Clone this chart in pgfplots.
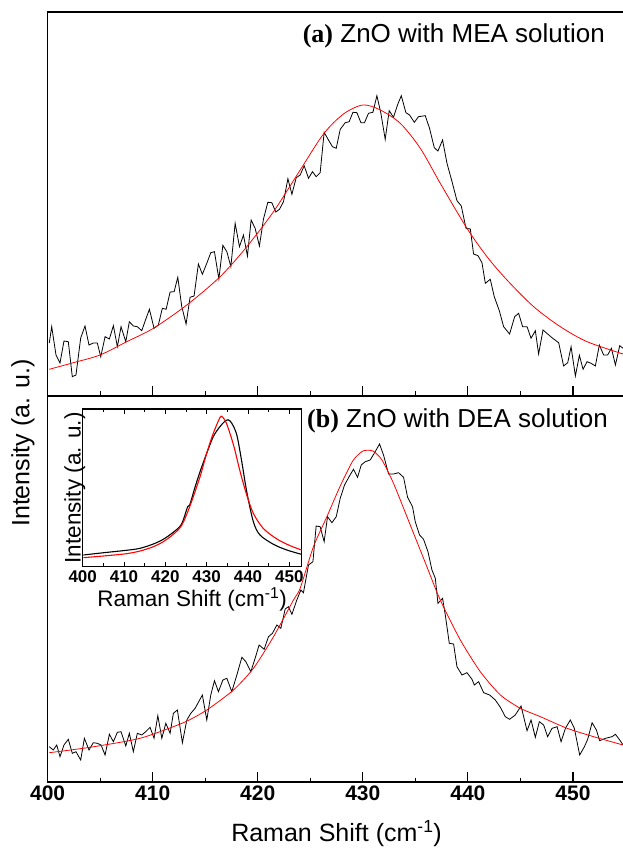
\documentclass[border=0pt]{standalone}
\usepackage{fontspec}
\setmainfont{Liberation Sans}
\newfontfamily\timesfont{Liberation Serif}
\usepackage{pgfplots}
\pgfplotsset{compat=1.18}
\definecolor{fitred}{HTML}{FF0000}

\pgfplotsset{
  raman/.style={
    scale only axis, anchor=south west,
    xmin=400, xmax=455,
    axis line style={line width=1.6pt},
    every tick/.style={black, line width=1.1pt},
    tick align=inside,
    major tick length=10pt, minor tick length=4.5pt,
    xtick={400,410,...,450}, minor xtick={405,415,...,455},
    xtick pos=bottom,
    ytick=\empty,
    /pgf/number format/assume math mode=true,
  },
}

\begin{document}
\begin{tikzpicture}[x=1pt,y=1pt]
\useasboundingbox (0,0) rectangle (623,853);

% ---- (a) MEA panel ----
\begin{axis}[raman,
    at={(47.6pt,457pt)}, width=577.9pt, height=384pt,
    ymin=0, ymax=384,
    minor ytick={0,18.3,...,380}, ytick pos=left,
    xticklabels={},
]
\addplot[black, line width=0.8pt] coordinates {
(400.16,53) (400.39,69.3) (400.80,41) (401.18,33) (401.56,55) (401.97,54.3)
(402.35,19.3) (402.70,21) (403.15,58) (403.56,70) (403.94,51) (404.35,53)
(404.73,53) (405.06,39.3) (405.47,59.3) (405.88,57) (406.26,70.3) (406.64,49.3)
(406.99,69.3) (407.44,54.3) (407.78,74.3) (408.16,70) (408.54,69.3) (408.96,65.3)
(409.34,76.7) (409.69,86.7) (410.13,67.7) (410.54,71) (410.92,87.7) (411.28,86.7)
(411.66,104) (412.04,104.3) (412.39,118.7) (412.77,89.3) (413.18,72) (413.56,98.7)
(413.94,100) (414.35,132) (414.73,121.7) (415.15,132.7) (415.53,143.3) (415.88,144.3)
(416.30,117) (416.68,150.7) (417.06,144.3) (417.44,129.3) (417.85,172.7) (418.26,149.3)
(418.64,161) (419.02,140) (419.37,176) (419.75,167.7) (420.16,150) (420.54,176.7)
(420.96,193.7) (421.34,193.3) (421.72,184) (422.07,186.7) (422.45,194.3) (422.87,217.3)
(423.25,201.7) (423.66,218.3) (424.04,221) (424.42,230.3) (424.83,217.7) (425.21,224.3)
(425.56,219.3) (425.94,223.3) (426.32,263.7) (426.73,256) (427.11,249.3) (427.47,247.7)
(427.85,266.7) (428.32,273.3) (428.70,274.3) (429.06,283.7) (429.44,283.3) (429.82,273.3)
(430.16,273.3) (430.54,282.7) (430.96,283.7) (431.34,300.3) (431.72,282.7) (432.13,256.7)
(432.51,285.3) (432.92,278.7) (433.30,291) (433.66,300.3) (434.10,283.3) (434.45,281)
(434.90,273.7) (435.30,279.3) (435.94,280.3) (436.35,267.7) (436.80,248.3) (437.15,245)
(437.59,256) (438.01,232.7) (438.49,214.3) (438.96,195.3) (439.37,190) (439.82,167.7)
(440.23,167) (440.54,142) (440.96,140.3) (441.34,133.3) (441.66,112.7) (442.13,116.7)
(442.51,99.3) (442.99,85.3) (443.40,69.3) (443.97,62) (444.45,79.3) (444.83,82.7)
(445.21,69.3) (445.63,69.3) (446.01,57.7) (446.42,65.3) (446.73,42) (447.15,66)
(447.59,62) (448.07,57.7) (448.64,53.3) (449.11,30) (449.50,33.3) (449.82,49.3)
(450.23,20) (450.61,40.7) (450.96,26.7) (451.34,34.3) (451.72,32.7) (452.13,30)
(452.51,51) (452.92,41) (453.30,41) (453.66,47.7) (454.04,31) (454.45,50.3)
(454.77,47.7)
};
\addplot[fitred, line width=0.8pt, smooth] coordinates {
(400.16,26.7) (402.45,33.3) (404.99,41) (407.53,54.3) (410.07,67.7) (413.25,91)
(416.42,119.3) (418.96,149.3) (421.50,184.3) (424.04,226) (426.26,262) (428.16,282)
(430.01,291) (431.66,286) (433.56,272.7) (435.47,247.7) (437.37,212.7) (439.91,167.7)
(441.82,139.3) (443.72,116) (446.26,89.3) (448.80,69.3) (451.34,54.3) (454.77,42)
};
\end{axis}

% ---- (b) DEA panel ----
\begin{axis}[raman,
    at={(47.6pt,71pt)}, width=577.9pt, height=386pt,
    ymin=0, ymax=386,
    minor ytick={4.3,22.6,...,380}, ytick pos=left,
    xticklabel style={font=\bfseries\fontsize{21}{21}\selectfont},
    xlabel={Raman Shift (cm\textsuperscript{-1})},
    xlabel style={font=\fontsize{25}{25}\selectfont, yshift=-13pt},
]
\addplot[black, line width=0.8pt] coordinates {
(400.16,35.3) (400.54,32) (400.87,37) (401.18,25.3) (401.56,37) (401.97,42.7)
(402.35,28.7) (402.70,30.3) (403.15,22) (403.50,43.7) (403.94,32) (404.35,39.3)
(404.73,38.7) (405.09,37) (405.47,27) (405.88,47.7) (406.26,40.3) (406.64,49.7)
(406.99,50.3) (407.44,36) (407.78,48.7) (408.16,30.3) (408.54,48.7) (408.96,47)
(409.34,50.3) (409.75,54.7) (410.13,43.7) (410.49,66.3) (410.87,43.7) (411.25,58.7)
(411.66,48.7) (411.97,68.7) (412.35,72) (412.83,39.3) (413.25,62) (413.63,68.7)
(414.04,73.7) (414.73,87) (415.15,62) (415.53,87) (415.88,101.3) (416.26,90.3)
(416.68,102) (417.06,103.7) (417.53,90.3) (418.01,107) (418.49,124.7) (418.87,120.3)
(419.34,110.3) (419.75,123.7) (420.13,137) (420.61,132.7) (421.02,145.3) (421.40,148.7)
(421.82,157) (422.20,153.7) (422.61,173) (422.92,175.3) (423.25,167.7) (423.72,182)
(424.10,192) (424.35,189.3) (424.83,217) (425.25,220.3) (425.56,256) (425.94,255.3)
(426.32,240.3) (426.64,265.3) (427.06,259.3) (427.47,265.3) (427.85,283.7) (428.26,297)
(428.73,306) (429.11,312.7) (429.50,304.7) (429.85,317) (430.23,320.3) (430.70,322)
(431.18,330.3) (431.59,338) (431.97,327) (432.45,308) (432.92,308) (433.40,309.3)
(433.88,304.7) (434.26,284.7) (434.73,275.3) (434.99,260.3) (435.40,247) (435.78,242.7)
(436.20,230.3) (436.58,212) (436.90,203.7) (437.15,178.7) (437.59,183.7) (437.85,167)
(438.23,138.7) (438.64,138) (438.96,115.3) (439.44,107) (439.91,109.3) (440.39,102.7)
(440.61,97) (441.02,100.3) (441.50,89.3) (442.07,87) (442.61,82) (443.09,74.7)
(443.56,65.3) (443.97,62.7) (444.51,67) (445.06,76) (445.63,51.3) (446.01,62)
(446.42,44.7) (446.80,60.3) (447.21,57) (447.59,45.3) (448.01,53.7) (448.49,55.3)
(448.87,40.3) (449.28,53.7) (449.75,62) (450.13,53.7) (450.64,27) (451.09,35.3)
(451.40,42.7) (451.82,59.3) (452.23,52) (452.54,41.3) (453.09,43.7) (453.72,45.3)
(454.04,47.7) (454.45,42) (454.77,37)
};
\addplot[fitred, line width=0.8pt, smooth, tension=0.4] coordinates {
(400.16,29.3) (404.04,34.7) (408.80,43.7) (412.92,59.3) (415.15,72) (417.69,92)
(419.59,113.7) (421.50,145.3) (423.40,182) (424.04,193.7) (425.30,235.3) (426.58,265.3)
(427.85,296) (429.06,321.3) (430.01,331) (430.96,331) (431.82,322) (432.92,298.7)
(434.20,265.3) (435.78,223.7) (437.37,182) (439.28,142) (441.18,110.3) (443.09,87)
(444.99,73.7) (446.90,65.3) (449.44,53.7) (451.97,45.3) (454.77,37)
};
\end{axis}

% ---- inset ----
\begin{axis}[
    scale only axis, anchor=south west,
    at={(82.7pt,286.3pt)}, width=219pt, height=157.7pt,
    xmin=400, xmax=453, ymin=0, ymax=157.7,
    axis background/.style={fill=white},
    axis line style={line width=1.2pt},
    every tick/.style={black, line width=0.8pt},
    tick align=inside,
    major tick length=5pt, minor tick length=3.5pt,
    xtick={400,410,...,450}, minor xtick={405,415,...,450},
    ytick=\empty, minor ytick={10,21.2,...,157},
    /pgf/number format/assume math mode=true,
    xticklabel style={font=\bfseries\fontsize{17}{17}\selectfont},
    xlabel={Raman Shift (cm\textsuperscript{-1})},
    ylabel={Intensity (a. u.)},
    xlabel style={font=\fontsize{22.5}{22.5}\selectfont, yshift=1pt},
    ylabel style={font=\fontsize{22.5}{22.5}\selectfont, yshift=-6pt},
]
\addplot[black, line width=1.1pt, smooth] coordinates {
(400.15,11.7) (405.8,14.3) (410.6,16.4) (413.9,18.4) (417.1,22.7) (419.5,27.4)
(421.9,34.4) (423.9,42.4) (425.4,60) (425.9,61.7) (427.1,78.4) (428.4,95)
(430.0,113.3) (431.6,130) (433.2,140) (434.5,145.7) (435.3,146.7) (436.1,143.3)
(437.3,131.7) (438.5,105) (439.7,75) (441.3,45) (442.9,31.7) (446.2,22.3)
(449.4,16.7) (453.0,12.3)
};
\addplot[fitred, line width=1.1pt, smooth] coordinates {
(400.15,9) (405.8,11) (410.6,13) (413.9,15.7) (417.1,20) (419.5,25)
(421.9,32.3) (423.9,41) (425.9,60) (428.4,90) (430.0,113.3) (431.6,133.3)
(433.2,149) (433.8,149.7) (434.8,143.3) (436.5,121.7) (438.1,95) (439.7,71.7)
(441.3,53.3) (443.7,38.3) (447.0,27.7) (450.2,21) (453.0,16.7)
};
\end{axis}

\node[rotate=90, font=\fontsize{25}{25}\selectfont] at (23,410) {Intensity (a. u.)};
\node[anchor=east, inner sep=0pt, font=\fontsize{26}{26}\selectfont] at (605,817)
  {{\timesfont\bfseries (a)} ZnO with MEA solution};
\node[anchor=west, inner sep=0pt, font=\fontsize{26}{26}\selectfont] at (307,432)
  {{\timesfont\bfseries (b)} ZnO with DEA solution};
\end{tikzpicture}
\end{document}
